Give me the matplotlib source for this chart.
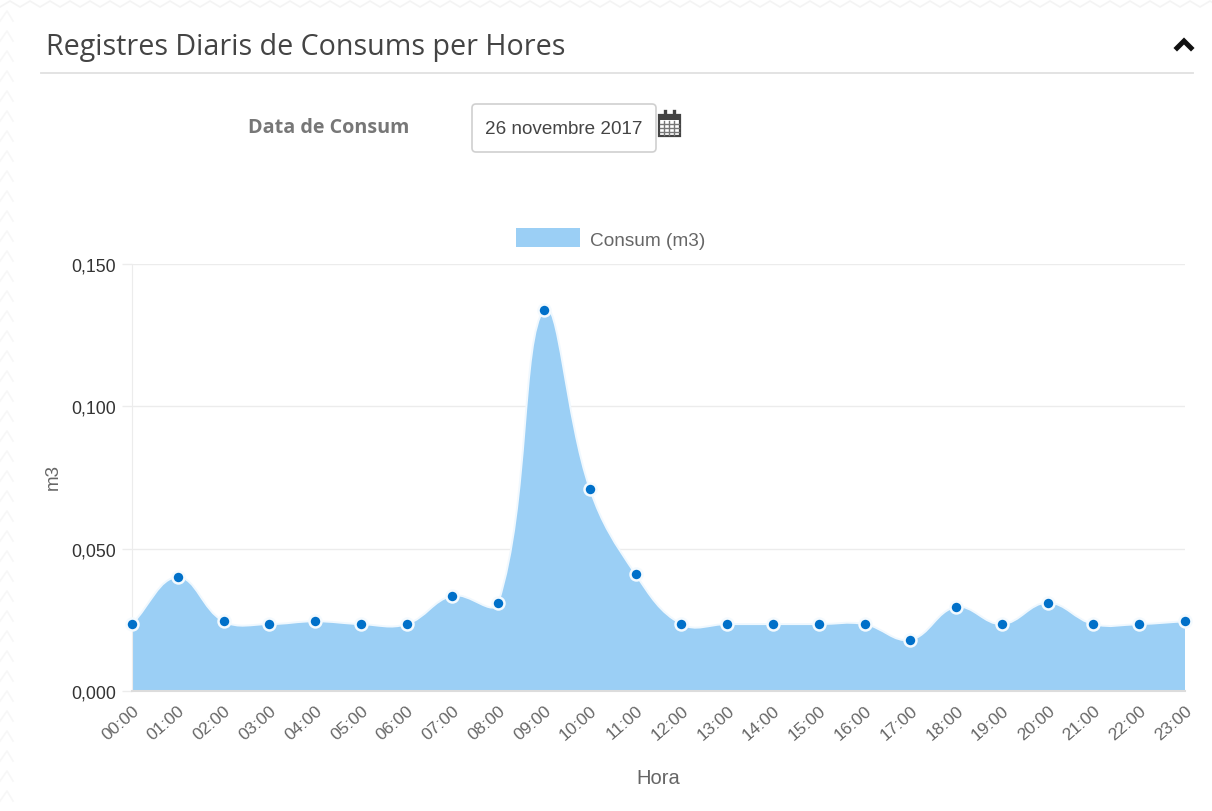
import numpy as np
import matplotlib
matplotlib.use('Agg')
import matplotlib.pyplot as plt
from matplotlib.path import Path
from matplotlib.patches import PathPatch, Rectangle, FancyBboxPatch
from matplotlib.transforms import ScaledTranslation

# Data
hores = ['00:00', '01:00', '02:00', '03:00', '04:00', '05:00', '06:00', '07:00',
         '08:00', '09:00', '10:00', '11:00', '12:00', '13:00', '14:00', '15:00',
         '16:00', '17:00', '18:00', '19:00', '20:00', '21:00', '22:00', '23:00']
consum = [0.0235, 0.0400, 0.0245, 0.0235, 0.0245, 0.0235, 0.0235, 0.0335,
          0.0310, 0.1340, 0.0710, 0.0410, 0.0235, 0.0235, 0.0235, 0.0235,
          0.0235, 0.0180, 0.0295, 0.0235, 0.0310, 0.0235, 0.0235, 0.0245]
y_ticks = [0.0, 0.05, 0.10, 0.15]
y_labels = ['0,000', '0,050', '0,100', '0,150']

W, H = 1212, 812
AREA = '#9bcff5'
GREY = '#666666'
GRID = '#ececec'

fig = plt.figure(figsize=(W / 100, H / 100), dpi=100, facecolor='white')

# page decoration in pixel coordinates
bg = fig.add_axes([0, 0, 1, 1])
bg.set_xlim(0, W)
bg.set_ylim(H, 0)
bg.axis('off')

# faint zigzag of the page background
xz = np.arange(0, W + 20, 20)
xs = np.repeat(xz, 2)[:-1] + np.tile([0, 10], len(xz))[:-1]
ys = np.tile([8, 2], len(xz))[:-1]
bg.plot(xs, ys, color='#f4f4f4', lw=1.2)
for y0 in range(12, H, 20):
    bg.plot([0, 7, 13], [y0 + 10, y0, y0 + 10], color='#f7f7f7', lw=1.2)

bg.text(46, 48, 'Registres Diaris de Consums per Hores', family='Open Sans', fontsize=20.6,
        color='#444444', va='center', ha='left')
bg.plot([41, 1193], [73.5, 73.5], color='#e0e0e0', lw=1.3)
bg.plot([1177, 1184, 1191], [49, 42, 49], color='#111111', lw=3.6, solid_joinstyle='miter')

bg.text(329, 128, 'Data de Consum', family='Open Sans', fontsize=14.2, weight='bold',
        color='#777777', va='center', ha='center')
bg.add_patch(FancyBboxPatch((472, 105), 184, 48, boxstyle='round,pad=0,rounding_size=4',
                            fc='white', ec='#d0d0d0', lw=1.2))
bg.text(564, 130, '26 novembre 2017', family='Liberation Sans', fontsize=13.6,
        color='#444444', va='center', ha='center')

# calendar icon
bg.add_patch(Rectangle((659, 116), 21, 21, fc='white', ec='#444444', lw=1.6))
bg.add_patch(Rectangle((659, 116), 21, 5, fc='#444444', ec='none'))
for x in [665, 674]:
    bg.plot([x, x], [112, 118], color='#444444', lw=2.4)
for x in [664, 669, 674]:
    bg.plot([x, x], [122, 136], color='#777777', lw=1)
for y in [125, 129, 133]:
    bg.plot([660, 679], [y, y], color='#777777', lw=1)

# legend
bg.add_patch(Rectangle((516, 229), 64, 19, fc=AREA, ec='none'))
bg.text(590, 241, 'Consum (m3)', family='Liberation Sans', fontsize=13.7, color=GREY,
        va='center', ha='left')

# chart
left, right, top, bottom = 132, 1185, 265, 692
ax = fig.add_axes([left / W, 1 - bottom / H, (right - left) / W, (bottom - top) / H])
ax.patch.set_alpha(0)
x = np.arange(len(consum))
y = np.array(consum)
ax.set_xlim(0, len(consum) - 1)
ax.set_ylim(0, 0.15)

# bezier like Chart.js (tension 0.4), distances measured in pixels
sx = (right - left) / (len(consum) - 1)
sy = (bottom - top) / 0.15
verts = [(x[0], y[0])]
codes = [Path.MOVETO]
ctrl_out = [None] * len(x)
ctrl_in = [None] * len(x)
for i in range(len(x)):
    p = max(i - 1, 0)
    n = min(i + 1, len(x) - 1)
    d01 = np.hypot((x[i] - x[p]) * sx, (y[i] - y[p]) * sy)
    d12 = np.hypot((x[n] - x[i]) * sx, (y[n] - y[i]) * sy)
    fa = 0.4 * d01 / (d01 + d12)
    fb = 0.4 * d12 / (d01 + d12)
    ctrl_in[i] = (x[i] - fa * (x[n] - x[p]), y[i] - fa * (y[n] - y[p]))
    ctrl_out[i] = (x[i] + fb * (x[n] - x[p]), y[i] + fb * (y[n] - y[p]))
for i in range(len(x) - 1):
    verts += [ctrl_out[i], ctrl_in[i + 1], (x[i + 1], y[i + 1])]
    codes += [Path.CURVE4] * 3

line = Path(verts, codes)
area = Path(verts + [(x[-1], 0), (x[0], 0), (x[0], y[0])],
            codes + [Path.LINETO, Path.LINETO, Path.LINETO])
ax.add_patch(PathPatch(area, fc=AREA, ec='none', zorder=2))
ax.add_patch(PathPatch(line, fc='none', ec='#f0f8fe', lw=1.4, zorder=3))
ax.plot(x, y, 'o', ms=8.6, mfc='#0070c9', mec='#f4fafe', mew=1.8, clip_on=False, zorder=4)

ax.set_yticks(y_ticks)
ax.set_yticklabels(y_labels, family='Liberation Sans', fontsize=12.8, color='#333333')
ax.set_xticks(x)
ax.set_xticklabels(hores, family='Liberation Sans', fontsize=12.5, color=GREY, rotation=41,
                   ha='right', rotation_mode='anchor')
for lab in ax.get_xticklabels():
    lab.set_transform(lab.get_transform() + ScaledTranslation(-0.04, 0, fig.dpi_scale_trans))
ax.tick_params(axis='y', length=7, width=1, color=GRID, pad=4.3)
ax.tick_params(axis='x', length=0, pad=8)
ax.grid(axis='y', color=GRID, lw=1, zorder=1)
ax.set_axisbelow(True)
for s in ['top', 'right']:
    ax.spines[s].set_visible(False)
ax.spines['left'].set_color(GRID)
ax.spines['bottom'].set_color('#dcdcdc')
ax.spines['bottom'].set_linewidth(1.5)

bg.text(53, 477, 'm3', family='Liberation Sans', fontsize=13.5, color=GREY, rotation=90,
        va='center', ha='center')
bg.text(658, 779, 'Hora', family='Liberation Sans', fontsize=14.5, color=GREY,
        va='center', ha='center')

fig.savefig('out.png', dpi=100)
